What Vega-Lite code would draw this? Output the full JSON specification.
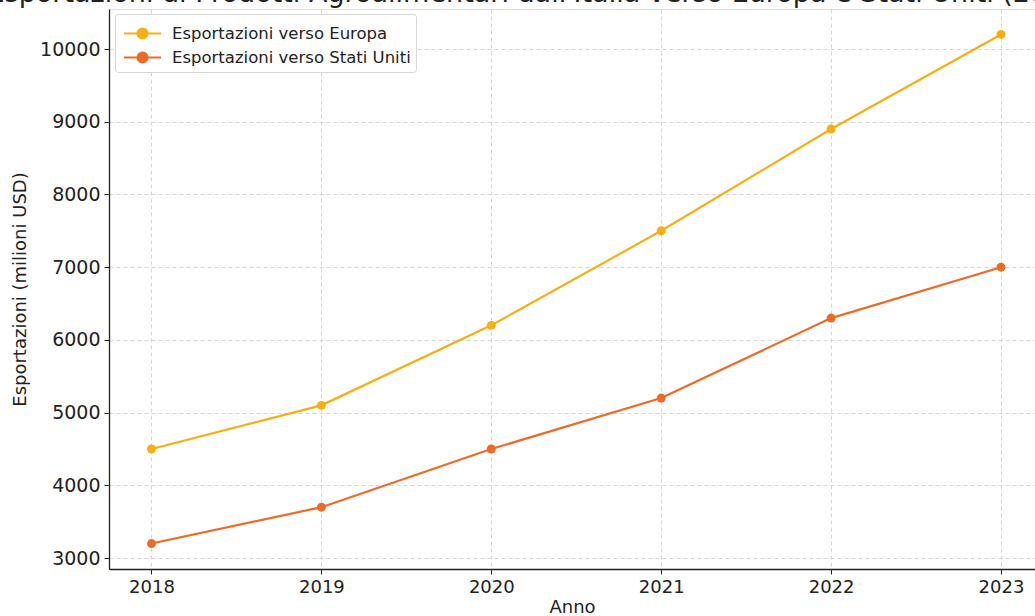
{
  "$schema": "https://vega.github.io/schema/vega-lite/v6.json",
  "autosize": {"type": "none"},
  "padding": {"left": 109, "top": 9, "right": 0, "bottom": 47},
  "width": 926,
  "height": 560,
  "background": "white",
  "title": {
    "text": "Esportazioni di Prodotti Agroalimentari dall'Italia verso Europa e Stati Uniti (2018-2023)",
    "font": "DejaVu Sans",
    "fontSize": 27,
    "fontWeight": "normal",
    "color": "#222222",
    "anchor": "start",
    "baseline": "alphabetic",
    "offset": 0,
    "dx": -24,
    "dy": 20
  },
  "data": {
    "values": [
      {"anno": 2018, "serie": "Esportazioni verso Europa", "valore": 4500},
      {"anno": 2019, "serie": "Esportazioni verso Europa", "valore": 5100},
      {"anno": 2020, "serie": "Esportazioni verso Europa", "valore": 6200},
      {"anno": 2021, "serie": "Esportazioni verso Europa", "valore": 7500},
      {"anno": 2022, "serie": "Esportazioni verso Europa", "valore": 8900},
      {"anno": 2023, "serie": "Esportazioni verso Europa", "valore": 10200},
      {"anno": 2018, "serie": "Esportazioni verso Stati Uniti", "valore": 3200},
      {"anno": 2019, "serie": "Esportazioni verso Stati Uniti", "valore": 3700},
      {"anno": 2020, "serie": "Esportazioni verso Stati Uniti", "valore": 4500},
      {"anno": 2021, "serie": "Esportazioni verso Stati Uniti", "valore": 5200},
      {"anno": 2022, "serie": "Esportazioni verso Stati Uniti", "valore": 6300},
      {"anno": 2023, "serie": "Esportazioni verso Stati Uniti", "valore": 7000}
    ]
  },
  "encoding": {
    "x": {
      "field": "anno",
      "type": "quantitative",
      "title": "Anno",
      "scale": {"domain": [2017.75, 2023.2], "nice": false, "zero": false},
      "axis": {
        "values": [2018, 2019, 2020, 2021, 2022, 2023],
        "format": "d",
        "grid": true,
        "gridDash": [4, 3],
        "gridColor": "#cccccc",
        "gridWidth": 0.8,
        "domainColor": "#222222",
        "domainWidth": 1.3,
        "tickColor": "#222222",
        "tickSize": 5,
        "labelFont": "DejaVu Sans",
        "labelFontSize": 18,
        "labelColor": "#222222",
        "labelPadding": 4,
        "titleFont": "DejaVu Sans",
        "titleFontSize": 18,
        "titleFontWeight": "normal",
        "titleColor": "#222222",
        "titlePadding": 2
      }
    },
    "y": {
      "field": "valore",
      "type": "quantitative",
      "title": "Esportazioni (milioni USD)",
      "scale": {"domain": [2850, 10550], "nice": false, "zero": false},
      "axis": {
        "values": [3000, 4000, 5000, 6000, 7000, 8000, 9000, 10000],
        "format": "d",
        "grid": true,
        "gridDash": [4, 3],
        "gridColor": "#cccccc",
        "gridWidth": 0.8,
        "domainColor": "#222222",
        "domainWidth": 1.3,
        "tickColor": "#222222",
        "tickSize": 5,
        "labelFont": "DejaVu Sans",
        "labelFontSize": 19,
        "labelColor": "#222222",
        "labelPadding": 4,
        "titleFont": "DejaVu Sans",
        "titleFontSize": 18,
        "titleFontWeight": "normal",
        "titleColor": "#222222",
        "titlePadding": 10
      }
    },
    "color": {
      "field": "serie",
      "type": "nominal",
      "scale": {
        "domain": ["Esportazioni verso Europa", "Esportazioni verso Stati Uniti"],
        "range": ["#F8AF12", "#EE6A26"]
      },
      "legend": {
        "title": null,
        "orient": "none",
        "legendX": 6,
        "legendY": 5,
        "fillColor": "white",
        "strokeColor": "#d6d6d6",
        "cornerRadius": 3,
        "padding": 5,
        "labelFont": "DejaVu Sans",
        "labelFontSize": 16.5,
        "labelColor": "#222222",
        "labelLimit": 400,
        "labelOffset": 15,
        "rowPadding": 0,
        "symbolOffset": 8,
        "symbolType": "M-1.4,0H1.4M-0.38,0A0.38,0.38 0 1,0 0.38,0A0.38,0.38 0 1,0 -0.38,0Z",
        "symbolSize": 700,
        "symbolStrokeWidth": 2,
        "symbolOpacity": 1
      }
    }
  },
  "layer": [
    {"mark": {"type": "line", "strokeWidth": 2.2}},
    {"mark": {"type": "point", "filled": true, "size": 80, "opacity": 1}}
  ]
}
